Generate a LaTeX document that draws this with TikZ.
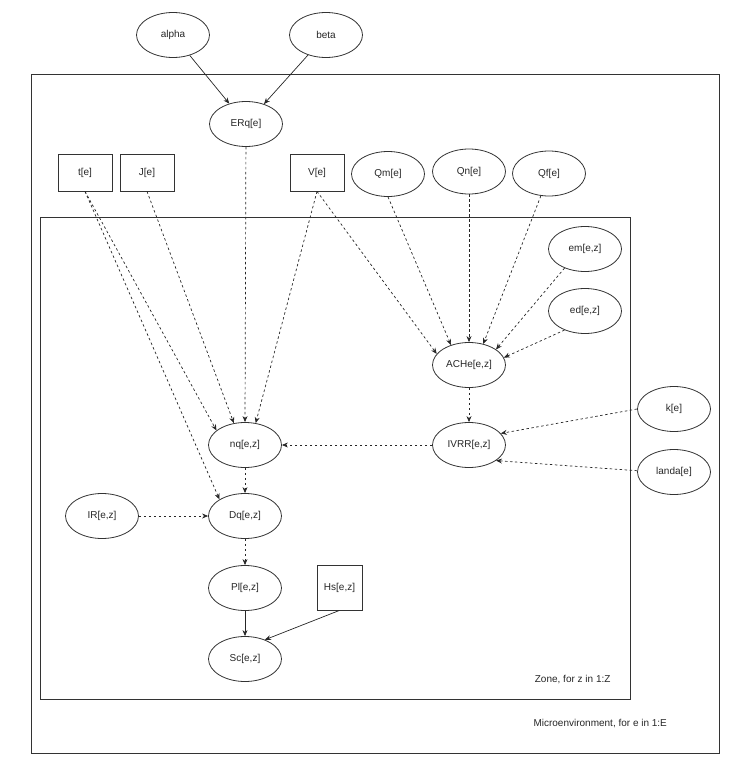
\documentclass[tikz,border=0pt]{standalone}
\usepackage{fontspec}
\setmainfont{Liberation Sans}
\usetikzlibrary{arrows.meta,shapes.geometric}
\begin{document}
\begin{tikzpicture}[x=1pt,y=-1pt,
  every node/.style={font=\fontsize{10}{12}\selectfont, text=black!85},
  ell/.style={ellipse,draw=black!80,line width=0.8pt,minimum width=73pt,minimum height=45pt,inner sep=0pt},
  sq/.style={rectangle,draw=black!80,line width=0.8pt,minimum width=54pt,minimum height=37pt,inner sep=0pt},
  plate/.style={draw=black!80,line width=0.8pt},
  solidarr/.style={draw=black!85,line width=0.7pt,-{Stealth[length=6pt,width=5pt]}},
  dasharr/.style={draw=black!85,line width=0.7pt,dash pattern=on 2.5pt off 2.5pt,-{Stealth[length=6pt,width=5pt]}}
]
\useasboundingbox (0,0) rectangle (731,768);
% plates
\draw[plate] (31,74) rectangle (719,753);
\draw[plate] (40,217) rectangle (630,699);
\node[anchor=base east] (zonelbl) at (614,682) {Zone, for z in 1:Z};
\node[anchor=base west] (microlbl) at (530,726) {Microenvironment, for e in 1:E};
% nodes
\node[ell] (alpha) at (173,35) {alpha};
\node[ell] (beta) at (326,35) {beta};
\node[ell] (ERq) at (246,124) {ERq[e]};
\node[sq] (t) at (85,172.5) {t[e]};
\node[sq] (J) at (147,172.5) {J[e]};
\node[sq] (V) at (317,172.5) {V[e]};
\node[ell] (Qm) at (388,174) {Qm[e]};
\node[ell] (Qn) at (469,171.5) {Qn[e]};
\node[ell] (Qf) at (549,173.5) {Qf[e]};
\node[ell] (em) at (585,249) {em[e,z]};
\node[ell] (ed) at (585,311) {ed[e,z]};
\node[ell] (ACHe) at (469,365) {ACHe[e,z]};
\node[ell] (k) at (674,409) {k[e]};
\node[ell] (IVRR) at (469,445) {IVRR[e,z]};
\node[ell] (landa) at (674,472) {landa[e]};
\node[ell] (nq) at (245,445) {nq[e,z]};
\node[ell] (IR) at (102,516) {IR[e,z]};
\node[ell] (Dq) at (245,516) {Dq[e,z]};
\node[ell] (Pl) at (245,588) {Pl[e,z]};
\node[sq,minimum width=45pt,minimum height=45pt] (Hs) at (339.5,587.5) {Hs[e,z]};
\node[ell] (Sc) at (245,659) {Sc[e,z]};
% edges
\draw[solidarr] (alpha) -- (ERq);
\draw[solidarr] (beta) -- (ERq);
\draw[dasharr] (ERq) -- (nq.north);
\draw[dasharr] (t.south) -- (nq.153);
\draw[dasharr] (t.south) -- (Dq.147);
\draw[dasharr] (J.south) -- (nq.117);
\draw[dasharr] (V.south) -- (nq.64);
\draw[dasharr] (V.south) -- (ACHe.161);
\draw[dasharr] (Qm.south) -- (ACHe.132);
\draw[dasharr] (Qn.south) -- (ACHe.north);
\draw[dasharr] (Qf.-110) -- (ACHe.56);
\draw[dasharr] (em.-137) -- (ACHe.30);
\draw[dasharr] (ed.-137) -- (ACHe.12);
\draw[dasharr] (ACHe) -- (IVRR);
\draw[dasharr] (k.west) -- (IVRR.20);
\draw[dasharr] (landa.178) -- (IVRR.-30);
\draw[dasharr] (IVRR) -- (nq);
\draw[dasharr] (nq) -- (Dq);
\draw[dasharr] (IR) -- (Dq);
\draw[dasharr] (Dq) -- (Pl);
\draw[solidarr] (Pl) -- (Sc);
\draw[solidarr] (Hs.south) -- (Sc.44);
\end{tikzpicture}
\end{document}
